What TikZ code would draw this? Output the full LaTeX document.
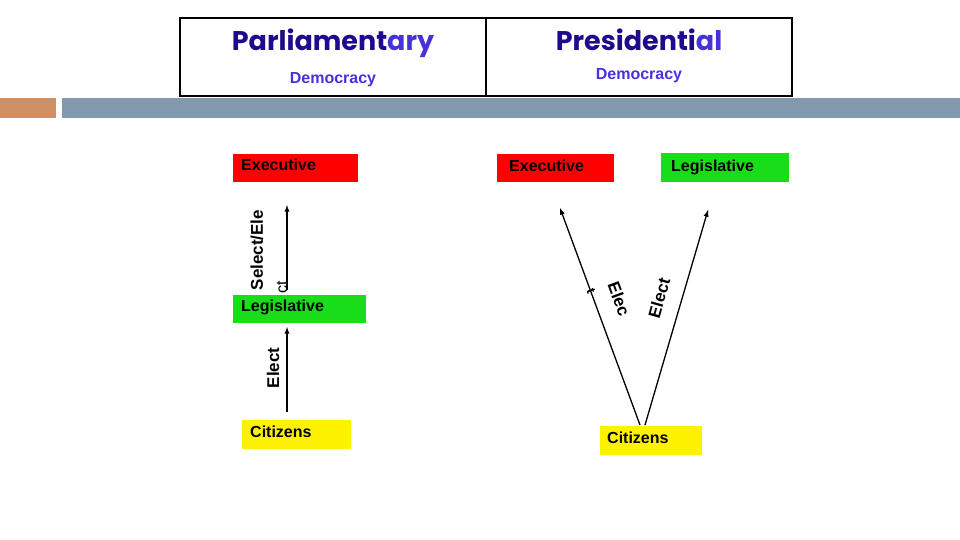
\documentclass[tikz,border=0pt]{standalone}
\usepackage{fontspec}
\setmainfont{Liberation Sans}
\newfontfamily\titlefont{Poppins}
\begin{document}
\begin{tikzpicture}[x=1pt,y=-1pt,
 lbl/.style={font=\bfseries\fontsize{16}{18}\selectfont,anchor=north west,inner sep=0pt},
 ar/.style={-latex,line width=1.3pt}]
\useasboundingbox (0,0) rectangle (960,540);
\definecolor{dblue}{RGB}{30,10,140}\definecolor{lblue}{RGB}{70,50,220}
\draw[line width=2pt] (180,18) rectangle (792,96);
\draw[line width=1.3pt] (486,18) -- (486,96);
\node[text=dblue,font=\titlefont\bfseries\fontsize{27}{29}\selectfont] (t1) at (333,43) {Parliament\textcolor{lblue}{ary}};
\node[text=lblue,font=\bfseries\fontsize{16}{18}\selectfont] (d1) at (333,80) {Democracy};
\node[text=dblue,font=\titlefont\bfseries\fontsize{27}{29}\selectfont] (t2) at (639,40) {Presidenti\textcolor{lblue}{al}};
\node[text=lblue,font=\bfseries\fontsize{16}{18}\selectfont] (d2) at (639,76) {Democracy};
\fill[color={rgb,255:red,208;green,144;blue,100}] (0,98) rectangle (56,118);
\fill[color={rgb,255:red,128;green,153;blue,173}] (62,98) rectangle (960,118);
% left
\fill[red] (233,154) rectangle (358,182); \node[lbl] (le) at (241,159) {Executive};
\fill[green!85!black!90] (233,295) rectangle (366,323); \node[lbl] (ll) at (241,300) {Legislative};
\fill[yellow] (242,420) rectangle (351,449); \node[lbl] (lc) at (250,426) {Citizens};
\coordinate (a1) at (287,290); \coordinate (a2) at (287,205);
\coordinate (b1) at (287,412); \coordinate (b2) at (287,327);
\draw[ar] (a1) -- (a2); \draw[ar] (b1) -- (b2);
\node[rotate=90,font=\bfseries\fontsize{17}{19}\selectfont,inner sep=0pt] (s1) at (257,250) {Select/Ele};
\node[rotate=90,font=\fontsize{16}{18}\selectfont,inner sep=0pt] (s2) at (282,287) {ct};
\node[rotate=90,font=\bfseries\fontsize{17}{19}\selectfont,inner sep=0pt] (s3) at (273,368) {Elect};
% right
\fill[red] (497,154) rectangle (614,182); \node[lbl] (re) at (509,160) {Executive};
\fill[green!85!black!90] (661,153) rectangle (789,182); \node[lbl] (rl) at (671,160) {Legislative};
\fill[yellow] (600,426) rectangle (702,455); \node[lbl] (rc) at (607,432) {Citizens};
\coordinate (c1) at (640,425); \coordinate (c2) at (560,208);
\coordinate (e1) at (645,425); \coordinate (e2) at (708,210);
\draw[ar] (c1) -- (c2); \draw[ar] (e1) -- (e2);
\node[rotate=-70,font=\bfseries\fontsize{17}{19}\selectfont,inner sep=0pt] (r1) at (619,299) {Elec};
\node[rotate=-70,font=\bfseries\fontsize{13}{15}\selectfont,inner sep=0pt] (r2) at (591,291) {t};
\node[rotate=74,font=\bfseries\fontsize{17}{19}\selectfont,inner sep=0pt] (r3) at (659,298) {Elect};
\end{tikzpicture}
\end{document}
